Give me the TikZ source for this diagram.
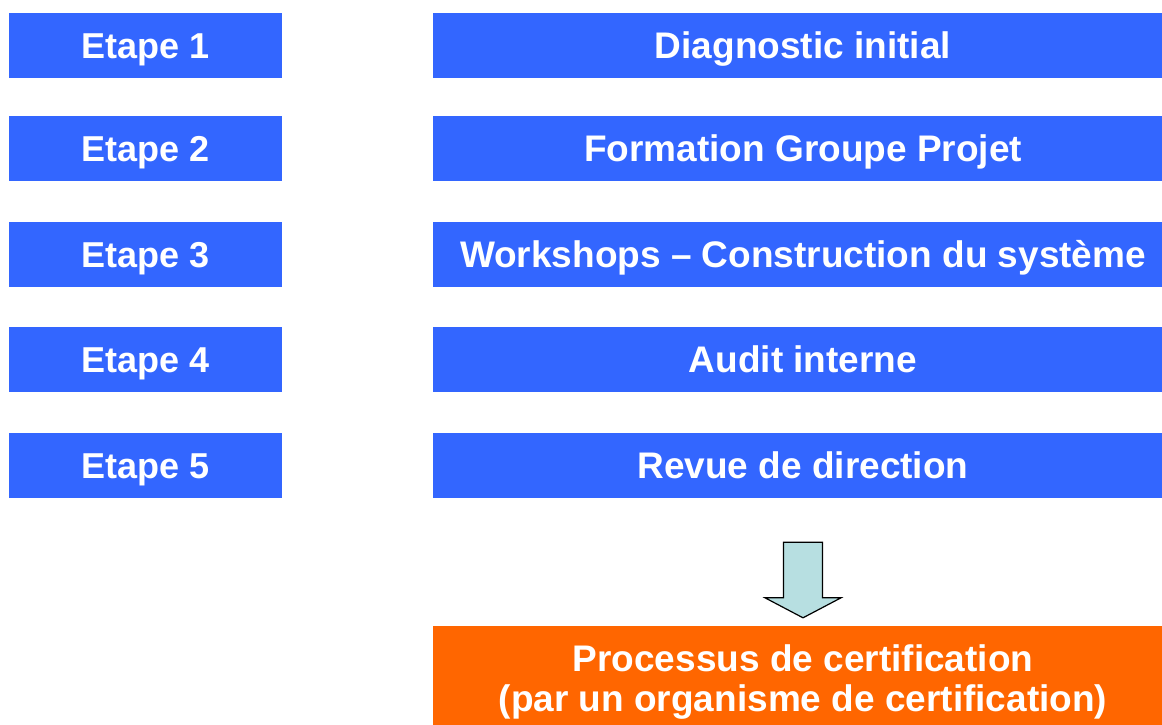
\documentclass[tikz,border=0pt]{standalone}
\usepackage{fontspec}
\setmainfont{Liberation Sans}
\usetikzlibrary{calc}
\definecolor{etapeblue}{HTML}{3366FF}
\definecolor{certorange}{HTML}{FF6600}
\definecolor{arrowfill}{HTML}{B7DFE1}
\tikzset{
  etape/.style={fill=etapeblue, text=white, font=\fontsize{36}{40}\selectfont\bfseries,
    minimum width=273pt, minimum height=65pt, inner sep=0pt,
    text height=25.5pt, text depth=0pt},
  tache/.style={etape, minimum width=740pt, font=\fontsize{37}{40}\selectfont\bfseries},
  cert/.style={fill=certorange, text=white, align=center,
    font=\fontsize{37}{40}\selectfont\bfseries,
    minimum width=740pt, minimum height=112pt, inner sep=0pt,
    text height=65.5pt, text depth=7.5pt}
}
\begin{document}
\begin{tikzpicture}[x=1pt, y=-1pt]
  \useasboundingbox (0,0) rectangle (1162,725);
  \node[etape] (e1) at (145.5,45.5) {Etape 1};
  \node[etape] (e2) at (145.5,148.5) {Etape 2};
  \node[etape] (e3) at (145.5,254.5) {Etape 3};
  \node[etape] (e4) at (145.5,359.5) {Etape 4};
  \node[etape] (e5) at (145.5,465.5) {Etape 5};
  \node[tache] (s1) at (803,45.5) {Diagnostic initial};
  \node[tache] (s2) at (803,148.5) {Formation Groupe Projet};
  \node[tache] (s3) at (803,254.5) {Workshops – Construction du système};
  \node[tache] (s4) at (803,359.5) {Audit interne};
  \node[tache] (s5) at (803,465.5) {Revue de direction};
  \node[cert] (c) at (803,682) {Processus de certification\\
    (par un organisme de certification)};
  \draw[fill=arrowfill, line width=1.2pt, line join=miter]
    ($(s5.south)+(-19.5,44)$) -- ($(s5.south)+(19.5,44)$)
    -- ($(c.north)+(19.5,-28)$) -- ($(c.north)+(38,-28)$)
    -- ($(c.north)+(0,-8)$) -- ($(c.north)+(-38,-28)$)
    -- ($(c.north)+(-19.5,-28)$) -- cycle;
\end{tikzpicture}
\end{document}
